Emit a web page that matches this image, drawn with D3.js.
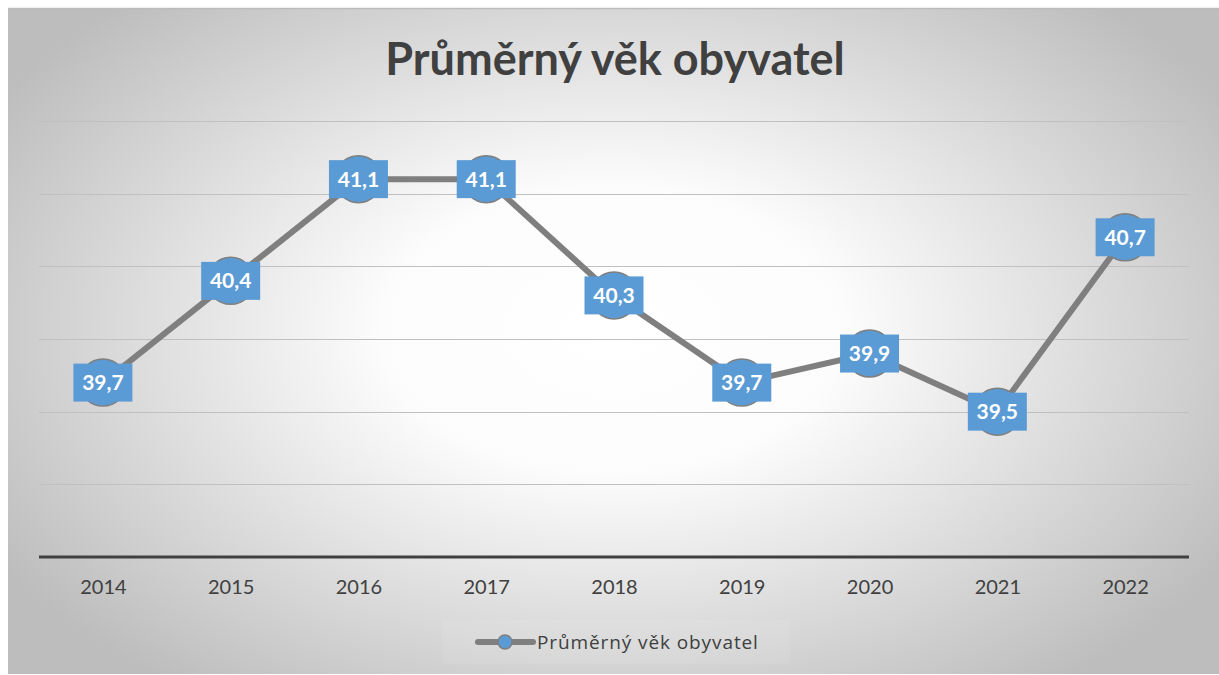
<!DOCTYPE html>
<html>
<head>
<meta charset="utf-8">
<script src="https://cdn.jsdelivr.net/npm/d3@7"></script>
<style>
  html, body { margin: 0; padding: 0; background: #fff; }
  svg { display: block; font-family: Lato, "Open Sans", sans-serif; }
</style>
</head>
<body>
<svg id="chart" width="1219" height="675"></svg>
<script>
// data
var years = ["2014", "2015", "2016", "2017", "2018", "2019", "2020", "2021", "2022"];
var ages = [39.7, 40.4, 41.1, 41.1, 40.3, 39.7, 39.9, 39.5, 40.7];
var yTicks = [38.5, 39, 39.5, 40, 40.5, 41, 41.5];
var seriesName = "Průměrný věk obyvatel";

var svg = d3.select("#chart"),
		W = 1219, H = 675,
		margin = {top: 121, right: 30, bottom: 118, left: 39};

// background with radial gradient
var defs = svg.append("defs");
var grad = defs.append("radialGradient")
		.attr("id", "bg")
		.attr("gradientUnits", "userSpaceOnUse")
		.attr("cx", 613).attr("cy", 330).attr("r", 720)
		.attr("gradientTransform", "translate(613,330) scale(1,0.62) translate(-613,-330)");
grad.append("stop").attr("offset", "0%").attr("stop-color", "#ffffff");
grad.append("stop").attr("offset", "32%").attr("stop-color", "#fcfcfc");
grad.append("stop").attr("offset", "100%").attr("stop-color", "#bdbdbd");

svg.append("rect")
		.attr("x", 8).attr("y", 8)
		.attr("width", W - 8).attr("height", H - 9)
		.attr("fill", "url(#bg)");
svg.append("line")
		.attr("x1", 8).attr("x2", W).attr("y1", 8.5).attr("y2", 8.5)
		.attr("stroke", "#bcbcbc").attr("stroke-width", 1.5);

// scales
var x = d3.scalePoint()
		.domain(years)
		.range([margin.left, W - margin.right])
		.padding(0.5);

var y = d3.scaleLinear()
		.domain([38.5, 41.5])
		.range([H - margin.bottom, margin.top]);

// title
svg.append("text")
		.attr("x", 615).attr("y", 75)
		.attr("text-anchor", "middle")
		.attr("font-size", 45)
		.attr("font-weight", "bold")
		.attr("fill", "#404040")
		.text(seriesName);

// gridlines
svg.append("g")
		.selectAll("line")
		.data(yTicks.slice(1))
		.enter().append("line")
		.attr("x1", margin.left).attr("x2", W - margin.right)
		.attr("y1", function(d) { return Math.round(y(d)) + 0.5; })
		.attr("y2", function(d) { return Math.round(y(d)) + 0.5; })
		.attr("stroke", "#c0c0c0")
		.attr("stroke-width", 1.2);

// x axis
var xAxis = svg.append("g")
		.attr("transform", "translate(0," + y(38.5) + ")")
		.call(d3.axisBottom(x).tickSize(0).tickPadding(23));
xAxis.select(".domain")
		.attr("d", "M" + margin.left + ",0H" + (W - margin.right))
		.attr("stroke", "#404040")
		.attr("stroke-width", 3);
xAxis.selectAll(".tick text")
		.attr("font-family", "Lato, sans-serif")
		.attr("font-size", 20)
		.attr("fill", "#404040");

// line
var line = d3.line()
		.x(function(d, i) { return x(years[i]); })
		.y(function(d) { return y(d); });

svg.append("path")
		.datum(ages)
		.attr("d", line)
		.attr("fill", "none")
		.attr("stroke", "#7f7f7f")
		.attr("stroke-width", 6)
		.attr("stroke-linejoin", "round");

// markers
svg.append("g")
		.selectAll("circle")
		.data(ages)
		.enter().append("circle")
		.attr("cx", function(d, i) { return x(years[i]); })
		.attr("cy", function(d) { return y(d); })
		.attr("r", 23.5)
		.attr("fill", "#5b9bd5")
		.attr("stroke", "#7f7f7f")
		.attr("stroke-width", 1.5);

// data labels
var labels = svg.append("g")
		.selectAll("g")
		.data(ages)
		.enter().append("g")
		.attr("transform", function(d, i) {
			return "translate(" + x(years[i]) + "," + y(d) + ")";
		});

labels.append("rect")
		.attr("x", -29.5).attr("y", -19)
		.attr("width", 59).attr("height", 38)
		.attr("fill", "#5b9bd5");

labels.append("text")
		.attr("text-anchor", "middle")
		.attr("dy", "0.36em")
		.attr("font-size", 21)
		.attr("font-weight", "bold")
		.attr("fill", "#ffffff")
		.text(function(d) { return String(d.toFixed(1)).replace(".", ","); });

// legend
var legend = svg.append("g").attr("transform", "translate(478,642)");
legend.append("rect")
		.attr("x", -36).attr("y", -22)
		.attr("width", 348).attr("height", 44)
		.attr("fill", "#ffffff").attr("opacity", 0.08);
legend.append("line")
		.attr("x1", 0).attr("x2", 55)
		.attr("stroke", "#7f7f7f").attr("stroke-width", 6)
		.attr("stroke-linecap", "round");
legend.append("circle")
		.attr("cx", 27).attr("r", 7)
		.attr("fill", "#5b9bd5")
		.attr("stroke", "#7f7f7f").attr("stroke-width", 1.5);
legend.append("text")
		.attr("x", 59).attr("dy", "0.35em")
		.attr("font-family", "'Open Sans', sans-serif")
		.attr("font-size", 19)
		.attr("letter-spacing", 0.9)
		.attr("fill", "#404040")
		.text(seriesName);
</script>
</body>
</html>
